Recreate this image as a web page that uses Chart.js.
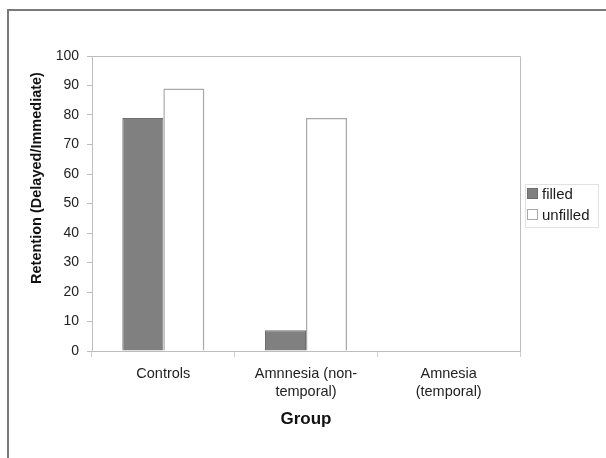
<!DOCTYPE html>
<html>
<head>
<meta charset="utf-8">
<script src="https://cdn.jsdelivr.net/npm/chart.js@4/dist/chart.umd.min.js"></script>
<style>
  html, body { margin: 0; padding: 0; background: #fff; }
  #wrap { position: relative; width: 606px; height: 458px; }
  canvas { display: block; }
</style>
</head>
<body>
<div id="wrap"><canvas id="c" width="606" height="458"></canvas></div>
<script>
// Retention by group, filled vs unfilled intervals
const groups = [["Controls"], ["Amnnesia (non-", "temporal)"], ["Amnesia", "(temporal)"]];
const filled = [79, 7, null];
const unfilled = [89, 79, null];
const yTicks = [0, 10, 20, 30, 40, 50, 60, 70, 80, 90, 100];
const yTitle = 'Retention (Delayed/Immediate)';

const FONT = "'Liberation Sans', Arial, Helvetica, sans-serif";

// outer frame, plot box, value-axis title and the side legend
const decor = {
  id: 'decor',
  beforeDraw(chart) {
    const ctx = chart.ctx;
    ctx.save();
    ctx.strokeStyle = '#7a7a7a';
    ctx.lineWidth = 2;
    ctx.beginPath();
    ctx.moveTo(8, 458);
    ctx.lineTo(8, 10);
    ctx.lineTo(606, 10);
    ctx.stroke();
    ctx.restore();
  },
  afterDraw(chart) {
    const ctx = chart.ctx;
    const a = chart.chartArea;
    ctx.save();
    ctx.strokeStyle = '#bdbdbd';
    ctx.lineWidth = 1;
    ctx.beginPath();
    ctx.moveTo(Math.round(a.left) - 0.5, Math.round(a.top) + 0.5);
    ctx.lineTo(Math.round(a.right) + 0.5, Math.round(a.top) + 0.5);
    ctx.lineTo(Math.round(a.right) + 0.5, Math.round(a.bottom));
    ctx.stroke();

    // y axis title, set slightly above the axis middle
    ctx.save();
    ctx.translate(37, 178);
    ctx.rotate(-Math.PI / 2);
    ctx.font = 'bold 14.5px ' + FONT;
    ctx.fillStyle = '#111';
    ctx.textAlign = 'center';
    ctx.textBaseline = 'middle';
    ctx.fillText(yTitle, 0, 0);
    ctx.restore();

    // legend
    const lx = 525, ly = 184, lw = 73, lh = 43;
    ctx.strokeStyle = '#e2e2e2';
    ctx.strokeRect(lx + 0.5, ly + 0.5, lw, lh);
    ctx.font = '15px ' + FONT;
    ctx.textBaseline = 'middle';
    ctx.textAlign = 'left';
    chart.data.datasets.forEach((ds, i) => {
      const sy = 188 + i * 21;
      ctx.fillStyle = ds.backgroundColor;
      ctx.fillRect(527, sy, 11, 11);
      ctx.strokeStyle = ds.borderColor;
      ctx.lineWidth = 1;
      ctx.strokeRect(527.5, sy + 0.5, 10, 10);
      ctx.fillStyle = '#1a1a1a';
      ctx.fillText(ds.label, 542, sy + 6.5);
    });
    ctx.restore();
  }
};

new Chart(document.getElementById('c'), {
  type: 'bar',
  data: {
    labels: groups,
    datasets: [
      { label: 'filled', data: filled, backgroundColor: '#808080', borderColor: '#6e6e6e', borderWidth: 1 },
      { label: 'unfilled', data: unfilled, backgroundColor: '#ffffff', borderColor: '#a8a8a8', borderWidth: 1.5 }
    ]
  },
  options: {
    responsive: false,
    animation: false,
    devicePixelRatio: 1,
    layout: { padding: { top: 56, right: 86, bottom: 0, left: 0 } },
    datasets: { bar: { categoryPercentage: 0.575, barPercentage: 1 } },
    plugins: { legend: { display: false }, tooltip: { enabled: false } },
    scales: {
      x: {
        grid: { drawOnChartArea: false, drawTicks: true, tickLength: 6, color: '#cfcfcf', offset: true },
        border: { color: '#bdbdbd', width: 1 },
        ticks: { color: '#222', font: { family: FONT, size: 14.5, lineHeight: 1.22 }, padding: 8, maxRotation: 0, autoSkip: false },
        title: { display: true, text: 'Group', color: '#111', font: { family: FONT, size: 17, weight: 'bold', lineHeight: 1.2 }, padding: { top: 0, bottom: 28 } },
        afterFit(s) { s.height = 107; }
      },
      y: {
        min: 0, max: 100,
        afterBuildTicks(s) { s.ticks = yTicks.map(v => ({ value: v })); },
        grid: { drawOnChartArea: false, drawTicks: true, tickLength: 5, color: '#bdbdbd' },
        border: { color: '#bdbdbd', width: 1 },
        ticks: { color: '#222', font: { family: FONT, size: 14 }, padding: 8 },
        afterFit(s) { s.width = 92; }
      }
    }
  },
  plugins: [decor]
});
</script>
</body>
</html>
